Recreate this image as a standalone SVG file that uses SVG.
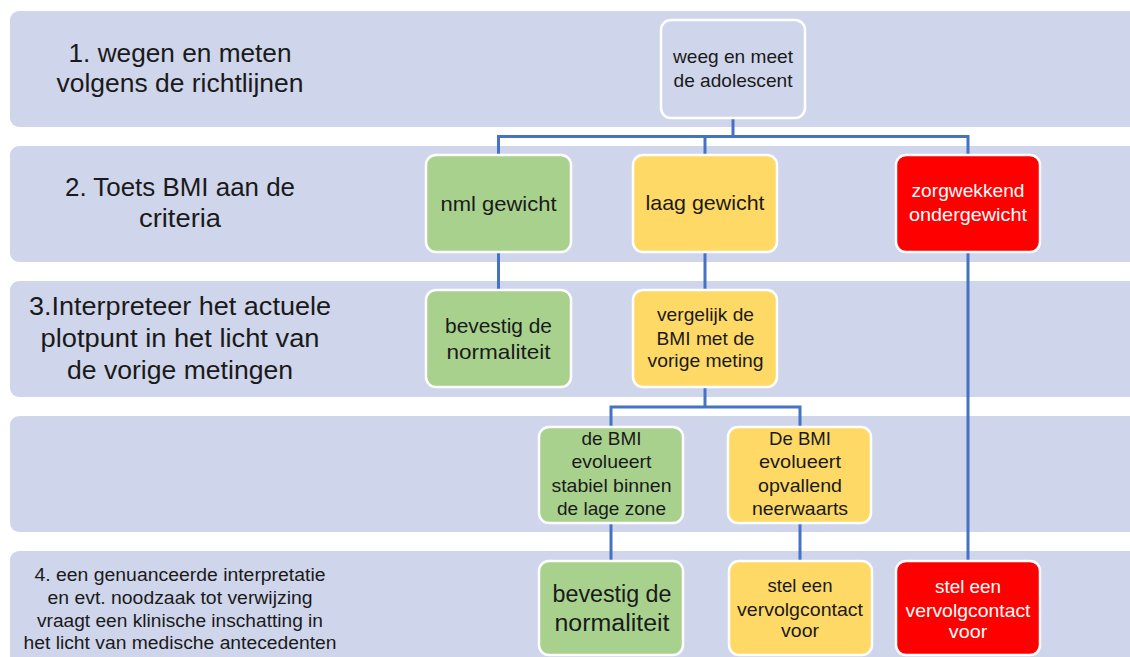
<svg xmlns="http://www.w3.org/2000/svg" width="1130" height="657" viewBox="0 0 1130 657">
<defs>
<style>
.band{fill:#CFD5EA;}
.node rect{stroke:#FFFFFF;stroke-width:2.5;}
.g rect{fill:#A9D18E;}
.y rect{fill:#FFD966;}
.r rect{fill:#FF0000;}
.w rect{fill:#CFD5EA;}
text{font-family:"Liberation Sans",Arial,sans-serif;text-anchor:middle;fill:#1A1A1A;}
.r text{fill:#FFFFFF;}
.lbl{font-size:25px;}
.lbls{font-size:17.5px;}
.t19{font-size:19px;}
.t21{font-size:21px;}
.t24{font-size:23.5px;}
.conn{fill:none;stroke:#4472C4;stroke-width:3;stroke-linejoin:miter;}
</style>
</defs>
<rect width="1130" height="657" fill="#FFFFFF"/>
<g id="bands">
<rect class="band" x="10" y="11" width="1140" height="116" rx="9"/>
<rect class="band" x="10" y="146" width="1140" height="116" rx="9"/>
<rect class="band" x="10" y="281" width="1140" height="116" rx="9"/>
<rect class="band" x="10" y="416" width="1140" height="116" rx="9"/>
<rect class="band" x="10" y="551" width="1140" height="130" rx="9"/>
</g>
<g id="band-labels">
<text class="lbl" x="180" y="62" textLength="223" lengthAdjust="spacingAndGlyphs">1. wegen en meten</text>
<text class="lbl" x="180" y="92" textLength="247" lengthAdjust="spacingAndGlyphs">volgens de richtlijnen</text>
<text class="lbl" x="180" y="196" textLength="230" lengthAdjust="spacingAndGlyphs">2. Toets BMI aan de</text>
<text class="lbl" x="180" y="226.5" textLength="82" lengthAdjust="spacingAndGlyphs">criteria</text>
<text class="lbl" x="180" y="315" textLength="302" lengthAdjust="spacingAndGlyphs">3.Interpreteer het actuele</text>
<text class="lbl" x="180" y="346.5" textLength="279" lengthAdjust="spacingAndGlyphs">plotpunt in het licht van</text>
<text class="lbl" x="180" y="379" textLength="226" lengthAdjust="spacingAndGlyphs">de vorige metingen</text>
<text class="lbls" x="180" y="581" textLength="291" lengthAdjust="spacingAndGlyphs">4. een genuanceerde interpretatie</text>
<text class="lbls" x="180" y="604" textLength="265" lengthAdjust="spacingAndGlyphs">en evt. noodzaak tot verwijzing</text>
<text class="lbls" x="180" y="626.5" textLength="286" lengthAdjust="spacingAndGlyphs">vraagt een klinische inschatting in</text>
<text class="lbls" x="180" y="649" textLength="313" lengthAdjust="spacingAndGlyphs">het licht van medische antecedenten</text>
</g>
<g id="connectors">
<path class="conn" d="M733,118 V136.5"/>
<path class="conn" d="M498.5,155 V136.5 H968 V155"/>
<path class="conn" d="M705,136.5 V155"/>
<path class="conn" d="M498.5,252 V290"/>
<path class="conn" d="M705,252 V290"/>
<path class="conn" d="M968,252 V561"/>
<path class="conn" d="M705,387 V407"/>
<path class="conn" d="M611,427 V407 H800 V427"/>
<path class="conn" d="M611,523 V561"/>
<path class="conn" d="M800,523 V561"/>
</g>
<g id="node-weeg" class="node w">
<rect x="661" y="20" width="144" height="98" rx="10"/>
<text class="t19" x="733" y="63" textLength="120" lengthAdjust="spacingAndGlyphs">weeg en meet</text>
<text class="t19" x="733" y="86.5" textLength="119" lengthAdjust="spacingAndGlyphs">de adolescent</text>
</g>
<g id="node-nml" class="node g">
<rect x="426" y="155" width="145" height="97" rx="10"/>
<text class="t21" x="498.5" y="211" textLength="116" lengthAdjust="spacingAndGlyphs">nml gewicht</text>
</g>
<g id="node-laag" class="node y">
<rect x="633" y="155" width="144" height="97" rx="10"/>
<text class="t21" x="705" y="210" textLength="119" lengthAdjust="spacingAndGlyphs">laag gewicht</text>
</g>
<g id="node-zorg" class="node r">
<rect x="896" y="155" width="144" height="97" rx="10"/>
<text class="t19" x="968" y="197" textLength="113" lengthAdjust="spacingAndGlyphs">zorgwekkend</text>
<text class="t19" x="968" y="221" textLength="118" lengthAdjust="spacingAndGlyphs">ondergewicht</text>
</g>
<g id="node-bevestig1" class="node g">
<rect x="426" y="290" width="145" height="97" rx="10"/>
<text class="t21" x="498.5" y="333" textLength="107" lengthAdjust="spacingAndGlyphs">bevestig de</text>
<text class="t21" x="498.5" y="359" textLength="104" lengthAdjust="spacingAndGlyphs">normaliteit</text>
</g>
<g id="node-vergelijk" class="node y">
<rect x="633" y="290" width="144" height="97" rx="10"/>
<text class="t19" x="705.5" y="321" textLength="97" lengthAdjust="spacingAndGlyphs">vergelijk de</text>
<text class="t19" x="705.5" y="345" textLength="98" lengthAdjust="spacingAndGlyphs">BMI met de</text>
<text class="t19" x="705.5" y="367" textLength="116" lengthAdjust="spacingAndGlyphs">vorige meting</text>
</g>
<g id="node-stabiel" class="node g">
<rect x="539" y="427" width="144" height="96" rx="10"/>
<text class="t19" x="611.5" y="445" textLength="60" lengthAdjust="spacingAndGlyphs">de BMI</text>
<text class="t19" x="611.5" y="468" textLength="80" lengthAdjust="spacingAndGlyphs">evolueert</text>
<text class="t19" x="611.5" y="492" textLength="120" lengthAdjust="spacingAndGlyphs">stabiel binnen</text>
<text class="t19" x="611.5" y="515" textLength="109" lengthAdjust="spacingAndGlyphs">de lage zone</text>
</g>
<g id="node-neerwaarts" class="node y">
<rect x="728" y="427" width="143" height="96" rx="10"/>
<text class="t19" x="800" y="445" textLength="62" lengthAdjust="spacingAndGlyphs">De BMI</text>
<text class="t19" x="800" y="468" textLength="82" lengthAdjust="spacingAndGlyphs">evolueert</text>
<text class="t19" x="800" y="492" textLength="84" lengthAdjust="spacingAndGlyphs">opvallend</text>
<text class="t19" x="800" y="515" textLength="96" lengthAdjust="spacingAndGlyphs">neerwaarts</text>
</g>
<g id="node-bevestig2" class="node g">
<rect x="539" y="561" width="144" height="94" rx="10"/>
<text class="t24" x="612" y="602" textLength="119" lengthAdjust="spacingAndGlyphs">bevestig de</text>
<text class="t24" x="612" y="631" textLength="115" lengthAdjust="spacingAndGlyphs">normaliteit</text>
</g>
<g id="node-stel-geel" class="node y">
<rect x="729" y="561" width="143" height="94" rx="10"/>
<text class="t19" x="800" y="592" textLength="65" lengthAdjust="spacingAndGlyphs">stel een</text>
<text class="t19" x="800" y="616" textLength="126" lengthAdjust="spacingAndGlyphs">vervolgcontact</text>
<text class="t19" x="800" y="637" textLength="38" lengthAdjust="spacingAndGlyphs">voor</text>
</g>
<g id="node-stel-rood" class="node r">
<rect x="896" y="561" width="144" height="94" rx="10"/>
<text class="t19" x="968" y="593" textLength="66" lengthAdjust="spacingAndGlyphs">stel een</text>
<text class="t19" x="968" y="617" textLength="125" lengthAdjust="spacingAndGlyphs">vervolgcontact</text>
<text class="t19" x="968" y="638" textLength="38.5" lengthAdjust="spacingAndGlyphs">voor</text>
</g>
</svg>
